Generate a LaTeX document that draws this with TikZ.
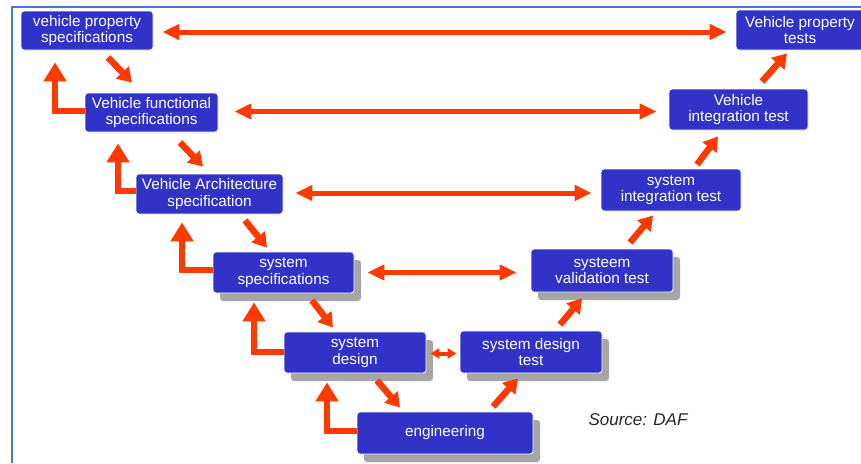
\documentclass[tikz,border=0pt]{standalone}
\usepackage{fontspec}
\setmainfont{Liberation Sans}
\usetikzlibrary{arrows.meta,shadows,calc}
\definecolor{boxblue}{RGB}{50,50,200}
\definecolor{arrred}{RGB}{255,58,0}
\definecolor{frameblue}{RGB}{70,120,205}
\begin{document}
\begin{tikzpicture}[x=1pt,y=-1pt,
  box/.style={fill=boxblue, draw=white, line width=0.8pt, rounded corners=3pt, text=white,
    font=\fontsize{15.3}{16.5}\selectfont, align=center, inner sep=0pt},
  shad/.style={drop shadow={shadow xshift=7pt, shadow yshift=-8pt, fill=black!35, opacity=1}},
  darr/.style={draw=arrred, line width=5pt, {Triangle[length=17pt,width=15pt]}-{Triangle[length=17pt,width=15pt]}},
  sarr/.style={draw=arrred, line width=6.5pt, -{Triangle[length=14pt,width=17pt]}},
  larr/.style={draw=arrred, line width=6pt, -{Triangle[length=19pt,width=22pt]}},
  tarr/.style={draw=arrred, line width=4pt, {Triangle[length=9pt,width=10pt]}-{Triangle[length=9pt,width=10pt]}}]
\useasboundingbox (0,0) rectangle (861,463);
\fill[white] (0,0) rectangle (861,463);
% frame
\draw[frameblue, line width=2pt] (12,463) -- (12,7) -- (861,7);
% boxes
\node[box, minimum width=132, minimum height=39] (b1) at (87,30.5) {vehicle property\\specifications};
\node[box, minimum width=133, minimum height=39] (b2) at (151.5,112.5) {Vehicle functional\\specifications};
\node[box, minimum width=147, minimum height=40] (b3) at (209.5,194) {Vehicle Architecture\\specification};
\node[box, shad, minimum width=141, minimum height=41] (b4) at (283.5,272.5) {system\\specifications};
\node[box, shad, minimum width=142, minimum height=41] (b5) at (355,352.5) {system\\design};
\node[box, shad, minimum width=176, minimum height=42] (b6) at (445,433) {engineering};
\node[box, shad, minimum width=142, minimum height=42] (b7) at (531,352) {system design\\test};
\node[box, shad, minimum width=142, minimum height=43] (b8) at (602,270.5) {systeem\\validation test};
\node[box, minimum width=140, minimum height=42] (b9) at (671,190) {system\\integration test};
\node[box, minimum width=139, minimum height=41] (b10) at (738.5,109.5) {Vehicle\\integration test};
\node[box, minimum width=128, minimum height=40] (b11) at (800,30) {Vehicle property\\tests};
% source
\node[font=\fontsize{17}{20}\selectfont\itshape, text=black!85] (src) at (638,420) {Source: DAF};
% horizontal double arrows
\draw[darr, shorten <=9pt, shorten >=9pt] ([yshift=-1.5pt]b1.east) -- ([yshift=-1.5pt]b1.east -| b11.west);
\draw[darr, shorten <=16pt, shorten >=12pt] ([yshift=1pt]b2.east) -- ([yshift=1pt]b2.east -| b10.west);
\draw[darr, shorten <=12pt, shorten >=9pt] ([yshift=1pt]b3.east) -- ([yshift=1pt]b3.east -| b9.west);
\draw[darr, shorten <=13pt, shorten >=14pt] (b4.east) -- (b4.east -| b8.west);
\draw[tarr, shorten <=4pt, shorten >=3pt] ([yshift=-1pt]b5.east) -- ([yshift=-1pt]b5.east -| b7.west);
% down diagonal arrows
\draw[sarr] ([shift={(21,7)}]b1.south) -- ([shift={(-19.5,-10)}]b2.north);
\draw[sarr] ([shift={(28.5,10)}]b2.south) -- ([shift={(-6.5,-7)}]b3.north);
\draw[sarr] ([shift={(35.5,6)}]b3.south) -- ([shift={(-16.5,-4)}]b4.north);
\draw[sarr] ([shift={(28.5,7)}]b4.south) -- ([shift={(-22,-4)}]b5.north);
\draw[sarr] ([shift={(22,7)}]b5.south) -- ([shift={(-45,-4)}]b6.north);
% up diagonal arrows
\draw[sarr] ([shift={(48,-5)}]b6.north) -- ([shift={(-13,5)}]b7.south);
\draw[sarr] ([shift={(29,-6)}]b7.north) -- ([shift={(-20,6)}]b8.south);
\draw[sarr] ([shift={(28,-6)}]b8.north) -- ([shift={(-18,4)}]b9.south);
\draw[sarr] ([shift={(26,-4)}]b9.north) -- ([shift={(-20.5,6)}]b10.south);
\draw[sarr] ([shift={(23.5,-7)}]b10.north) -- ([shift={(-13,3)}]b11.south);
% L-shaped return arrows
\draw[larr] ([yshift=2]b2.west) -| ([shift={(-32,12)}]b1.south);
\draw[larr] ([yshift=3]b3.west) -| ([shift={(-33.5,11)}]b2.south);
\draw[larr] ([yshift=3]b4.west) -| ([shift={(-27.5,8)}]b3.south);
\draw[larr] ([yshift=1]b5.west) -| ([shift={(-29.5,9)}]b4.south);
\draw[larr] ([yshift=2]b6.west) -| ([shift={(-28,9)}]b5.south);
\end{tikzpicture}
\end{document}
